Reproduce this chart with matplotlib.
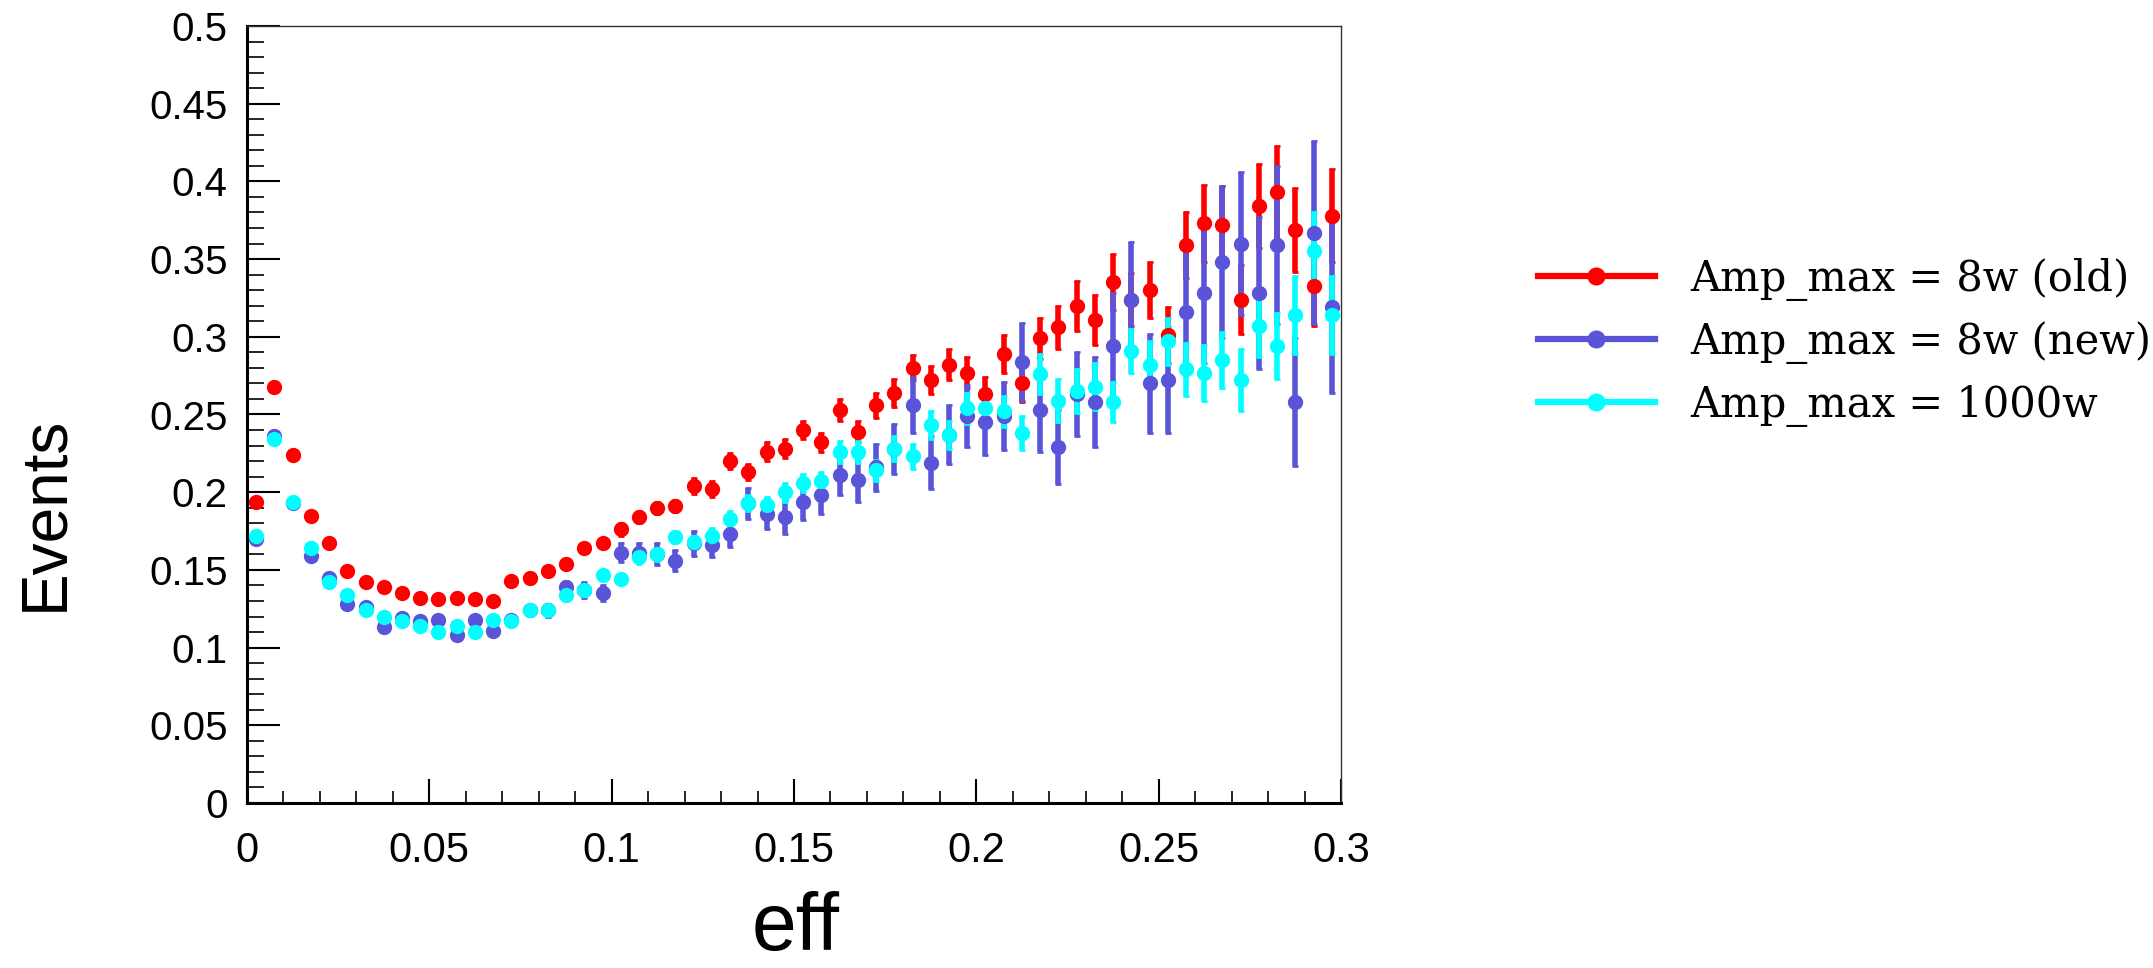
import numpy as np
import matplotlib
matplotlib.use("Agg")
import matplotlib.pyplot as plt
from matplotlib.lines import Line2D
from matplotlib.ticker import MultipleLocator

# 60 bins of width 0.005 between 0 and 0.3
bin_edges = np.linspace(0.0, 0.3, 61)
eff = 0.5 * (bin_edges[:-1] + bin_edges[1:])

old_vals = [0.194, 0.268, 0.224, 0.185, 0.167, 0.149, 0.142, 0.139, 0.135, 0.132,
            0.131, 0.132, 0.131, 0.130, 0.143, 0.145, 0.149, 0.154, 0.164, 0.167,
            0.176, 0.184, 0.190, 0.191, 0.204, 0.202, 0.220, 0.213, 0.226, 0.228,
            0.240, 0.232, 0.253, 0.239, 0.256, 0.264, 0.280, 0.272, 0.282, 0.277,
            0.263, 0.289, 0.270, 0.299, 0.306, 0.320, 0.311, 0.335, 0.324, 0.330,
            0.301, 0.359, 0.373, 0.372, 0.324, 0.384, 0.393, 0.369, 0.333, 0.378]
old_errs = [0.003, 0.003, 0.003, 0.002, 0.002, 0.002, 0.002, 0.002, 0.002, 0.002,
            0.002, 0.002, 0.002, 0.002, 0.002, 0.003, 0.003, 0.003, 0.003, 0.003,
            0.004, 0.004, 0.004, 0.004, 0.005, 0.005, 0.005, 0.005, 0.006, 0.006,
            0.006, 0.006, 0.007, 0.007, 0.008, 0.009, 0.008, 0.009, 0.010, 0.010,
            0.011, 0.012, 0.012, 0.013, 0.014, 0.016, 0.016, 0.018, 0.017, 0.018,
            0.018, 0.021, 0.025, 0.025, 0.022, 0.027, 0.030, 0.027, 0.026, 0.030]

new_vals = [0.170, 0.236, 0.193, 0.159, 0.145, 0.128, 0.126, 0.113, 0.119, 0.117,
            0.118, 0.108, 0.118, 0.111, 0.118, 0.124, 0.124, 0.139, 0.137, 0.135,
            0.161, 0.161, 0.160, 0.156, 0.167, 0.166, 0.173, 0.193, 0.186, 0.184,
            0.194, 0.198, 0.211, 0.208, 0.216, 0.228, 0.256, 0.219, 0.237, 0.249,
            0.245, 0.249, 0.284, 0.253, 0.229, 0.263, 0.258, 0.294, 0.324, 0.270,
            0.272, 0.316, 0.328, 0.348, 0.360, 0.328, 0.359, 0.258, 0.367, 0.319]
new_errs = [0.003, 0.003, 0.003, 0.003, 0.003, 0.003, 0.003, 0.003, 0.003, 0.003,
            0.003, 0.003, 0.003, 0.003, 0.003, 0.003, 0.004, 0.004, 0.005, 0.005,
            0.006, 0.006, 0.007, 0.007, 0.008, 0.008, 0.008, 0.010, 0.010, 0.011,
            0.012, 0.012, 0.013, 0.014, 0.015, 0.016, 0.018, 0.017, 0.019, 0.020,
            0.021, 0.022, 0.025, 0.027, 0.024, 0.027, 0.029, 0.034, 0.037, 0.032,
            0.034, 0.040, 0.045, 0.049, 0.046, 0.049, 0.051, 0.041, 0.059, 0.055]

w1000_vals = [0.172, 0.234, 0.194, 0.164, 0.142, 0.134, 0.124, 0.120, 0.117, 0.114,
              0.110, 0.114, 0.110, 0.118, 0.117, 0.124, 0.124, 0.134, 0.137, 0.147,
              0.144, 0.158, 0.160, 0.171, 0.168, 0.172, 0.183, 0.193, 0.192, 0.200,
              0.206, 0.207, 0.226, 0.226, 0.214, 0.228, 0.223, 0.243, 0.237, 0.254,
              0.254, 0.252, 0.238, 0.276, 0.259, 0.265, 0.268, 0.258, 0.291, 0.282,
              0.297, 0.279, 0.277, 0.285, 0.272, 0.307, 0.294, 0.314, 0.355, 0.314]
w1000_errs = [0.003, 0.003, 0.003, 0.002, 0.002, 0.002, 0.002, 0.002, 0.002, 0.002,
              0.002, 0.002, 0.002, 0.002, 0.002, 0.002, 0.002, 0.003, 0.003, 0.003,
              0.003, 0.004, 0.004, 0.004, 0.004, 0.005, 0.005, 0.005, 0.005, 0.006,
              0.006, 0.006, 0.007, 0.007, 0.007, 0.008, 0.008, 0.009, 0.009, 0.010,
              0.010, 0.010, 0.011, 0.013, 0.014, 0.014, 0.015, 0.013, 0.014, 0.015,
              0.015, 0.017, 0.018, 0.018, 0.020, 0.020, 0.021, 0.025, 0.025, 0.025]

labels = ["Amp_max = 8w (old)", "Amp_max = 8w (new)", "Amp_max = 1000w"]
colors = ["#ff0000", "#5a55d8", "#00ffff"]

sans = ["Liberation Sans", "DejaVu Sans"]

fig = plt.figure(figsize=(21.53, 9.68), dpi=100)
ax = fig.add_axes([247 / 2153, 1 - 803 / 968, 1094 / 2153, 777 / 968])

series = [(old_vals, old_errs), (new_vals, new_errs), (w1000_vals, w1000_errs)]
for (vals, errs), c in zip(series, colors):
    ax.errorbar(eff, vals, yerr=errs, fmt="o", color=c, ms=10, elinewidth=4,
                capsize=2.5, capthick=2, mec=c, zorder=3)

ax.set_xlim(0, 0.3)
ax.set_ylim(0, 0.5)
ax.xaxis.set_major_locator(MultipleLocator(0.05))
ax.xaxis.set_minor_locator(MultipleLocator(0.01))
ax.yaxis.set_major_locator(MultipleLocator(0.05))
ax.yaxis.set_minor_locator(MultipleLocator(0.01))
ax.xaxis.set_major_formatter(plt.FuncFormatter(lambda v, p: f"{v:g}"))
ax.yaxis.set_major_formatter(plt.FuncFormatter(lambda v, p: f"{v:g}"))

ax.tick_params(axis="y", which="major", direction="in", length=24, width=1.5, pad=14)
ax.tick_params(axis="y", which="minor", direction="in", length=12, width=1.2)
ax.tick_params(axis="x", which="major", direction="in", length=17, width=1.5, pad=20)
ax.tick_params(axis="x", which="minor", direction="in", length=8.5, width=1.2)

for lab in ax.get_yticklabels():
    lab.set_family(sans)
    lab.set_fontsize(29)
for lab in ax.get_xticklabels():
    lab.set_family(sans)
    lab.set_fontsize(30)

for side in ["left", "bottom"]:
    ax.spines[side].set_linewidth(2.2)
for side in ["top", "right"]:
    ax.spines[side].set_linewidth(1.0)
    ax.spines[side].set_color("#333333")

fig.text(45 / 2153, 1 - 513 / 968, "Events", rotation=90, ha="center", va="center",
         family=sans, fontsize=46)
fig.text(796 / 2153, 1 - 929 / 968, "eff", ha="center", va="center",
         family=sans, fontsize=58)

handles = [Line2D([0], [0], color=c, lw=4.5, marker="o", ms=12) for c in colors]
fig.legend(handles, labels, loc="upper left", bbox_to_anchor=(1538 / 2153, 1 - 258 / 968),
           frameon=False, prop={"family": "DejaVu Serif", "size": 30},
           handlelength=2.8, handletextpad=0.85, labelspacing=0.48,
           borderpad=0, borderaxespad=0)

fig.savefig("out.png", dpi=100)
